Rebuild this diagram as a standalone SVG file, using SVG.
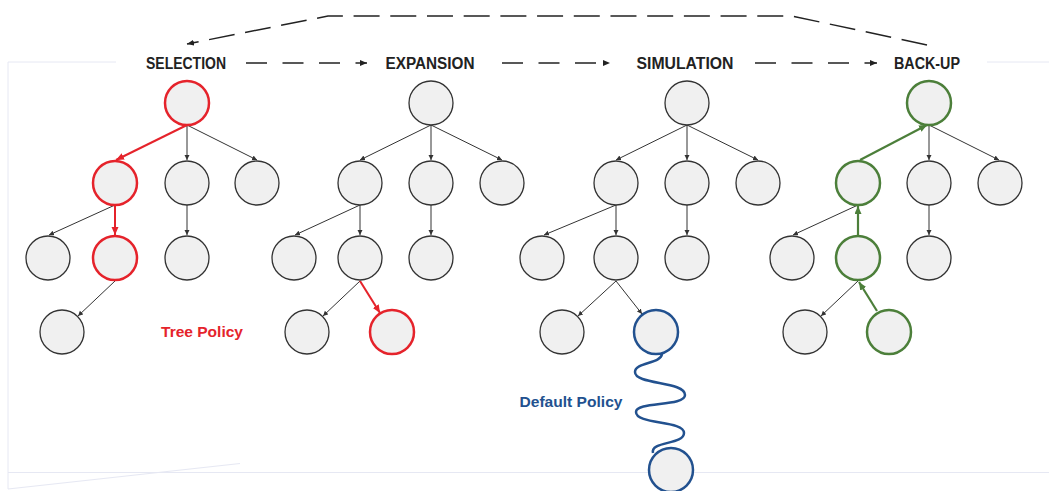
<svg xmlns="http://www.w3.org/2000/svg" width="1049" height="491" viewBox="0 0 1049 491">
<defs>
<style>
.n{fill:#f0f0f0;stroke:#333;stroke-width:1.3}
.nr{fill:#f0f0f0;stroke:#e5232b;stroke-width:2.5}
.ng{fill:#f0f0f0;stroke:#4c7f3a;stroke-width:2.5}
.nb{fill:#f0f0f0;stroke:#22518f;stroke-width:2.5}
.e{stroke:#333;stroke-width:1;fill:none;marker-end:url(#ak)}
.er{stroke:#e5232b;stroke-width:2;fill:none;marker-end:url(#ar)}
.eg{stroke:#4c7f3a;stroke-width:2.2;fill:none;marker-end:url(#ag)}
.d{stroke:#222;stroke-width:1.5;fill:none;stroke-dasharray:21 15.5;marker-end:url(#ad)}
.h{font-family:"Liberation Sans",Arial,sans-serif;font-weight:bold;font-size:16px;fill:#222;text-anchor:middle}
.p{font-family:"Liberation Sans",Arial,sans-serif;font-weight:bold;font-size:15.5px;text-anchor:middle}
.f{stroke:#e6e8f3;stroke-width:1;fill:none}
</style>
<marker id="ak" markerUnits="userSpaceOnUse" markerWidth="6" markerHeight="6" refX="5" refY="2.5" orient="auto"><path d="M0,0 L5,2.5 L0,5 z" fill="#333"/></marker>
<marker id="ad" markerUnits="userSpaceOnUse" markerWidth="8" markerHeight="8" refX="7" refY="3" orient="auto"><path d="M0,0 L7,3 L0,6 z" fill="#222"/></marker>
<marker id="ar" markerUnits="userSpaceOnUse" markerWidth="10" markerHeight="10" refX="8" refY="3.5" orient="auto"><path d="M0,0 L8,3.5 L0,7 z" fill="#e5232b"/></marker>
<marker id="ag" markerUnits="userSpaceOnUse" markerWidth="10" markerHeight="10" refX="8" refY="3.5" orient="auto"><path d="M0,0 L8,3.5 L0,7 z" fill="#4c7f3a"/></marker>
</defs>
<rect width="1049" height="491" fill="#fff"/>
<g id="frame">
<path class="f" d="M116,62 H8 V489 M987,62 H1049 M8,472.5 H1049 M8,489 L240,463.5"/>
</g>
<g id="connectors">
<path class="d" d="M246,63 H367"/>
<path class="d" d="M502,63 H610"/>
<path class="d" d="M755,63 H877"/>
<path d="M927,45 L792,16 H328 L187,44" stroke="#222" stroke-width="1.5" fill="none" stroke-dasharray="26 10.7" marker-end="url(#ad)"/>
<path class="er" d="M187,125 L116,160"/>
<path class="e" d="M187,125 L187,160"/>
<path class="e" d="M187,125 L257,160"/>
<path class="e" d="M115,205 L49,235"/>
<path class="er" d="M115,205 L115,235"/>
<path class="e" d="M187,205 L187,235"/>
<path class="e" d="M115,281 L78,316"/>
<path class="e" d="M431,125 L360,160"/>
<path class="e" d="M431,125 L431,160"/>
<path class="e" d="M431,125 L502,160"/>
<path class="e" d="M360,205 L295,235"/>
<path class="e" d="M360,205 L360,235"/>
<path class="e" d="M431,205 L431,235"/>
<path class="e" d="M360,281 L323,316"/>
<path class="er" d="M360,281 L380,313"/>
<path class="e" d="M687,125 L616,160"/>
<path class="e" d="M687,125 L687,160"/>
<path class="e" d="M687,125 L758,160"/>
<path class="e" d="M616,205 L544,235"/>
<path class="e" d="M616,205 L616,235"/>
<path class="e" d="M687,205 L687,235"/>
<path class="e" d="M616,281 L578,316"/>
<path class="e" d="M616,281 L642,314"/>
<path d="M662,354 C661,364 635,362 635,372 C635,385 685,381 685,395 C685,407 636,401 636,412 C636,425 684,420 684,433 C684,445 650,441 653,453" stroke="#22518f" stroke-width="2.5" fill="none"/>
<path class="eg" d="M860,160 L927,125"/>
<path class="e" d="M929,125 L929,160"/>
<path class="e" d="M929,125 L999,160"/>
<path class="e" d="M858,205 L793,235"/>
<path class="eg" d="M858,235 L858,206"/>
<path class="e" d="M929,205 L929,235"/>
<path class="e" d="M858,281 L821,316"/>
<path class="eg" d="M877,311 L859,282"/>
</g>
<g id="labels">
<text class="h" x="186" y="69" textLength="80" lengthAdjust="spacingAndGlyphs">SELECTION</text>
<text class="h" x="430" y="69" textLength="89" lengthAdjust="spacingAndGlyphs">EXPANSION</text>
<text class="h" x="685" y="69" textLength="97" lengthAdjust="spacingAndGlyphs">SIMULATION</text>
<text class="h" x="927" y="69" textLength="66" lengthAdjust="spacingAndGlyphs">BACK-UP</text>
<text class="p" x="202" y="337" fill="#e5232b" textLength="82" lengthAdjust="spacingAndGlyphs">Tree Policy</text>
<text class="p" x="571" y="407" fill="#22518f" textLength="103" lengthAdjust="spacingAndGlyphs">Default Policy</text>
</g>
<g id="selection">
<circle id="s0" class="nr" cx="187" cy="103" r="22"/>
<circle id="s1" class="nr" cx="115" cy="183" r="22"/>
<circle id="s2" class="n" cx="187" cy="183" r="22"/>
<circle id="s3" class="n" cx="257" cy="183" r="22"/>
<circle id="s4" class="n" cx="48" cy="258" r="22"/>
<circle id="s5" class="nr" cx="115" cy="258" r="22"/>
<circle id="s6" class="n" cx="187" cy="258" r="22"/>
<circle id="s7" class="n" cx="62" cy="332" r="22"/>
</g>
<g id="expansion">
<circle id="e0" class="n" cx="431" cy="103" r="22"/>
<circle id="e1" class="n" cx="360" cy="183" r="22"/>
<circle id="e2" class="n" cx="431" cy="183" r="22"/>
<circle id="e3" class="n" cx="502" cy="183" r="22"/>
<circle id="e4" class="n" cx="294" cy="258" r="22"/>
<circle id="e5" class="n" cx="360" cy="258" r="22"/>
<circle id="e6" class="n" cx="431" cy="258" r="22"/>
<circle id="e7" class="n" cx="307" cy="332" r="22"/>
<circle id="e8" class="nr" cx="392" cy="332" r="22"/>
</g>
<g id="simulation">
<circle id="m0" class="n" cx="687" cy="103" r="22"/>
<circle id="m1" class="n" cx="616" cy="183" r="22"/>
<circle id="m2" class="n" cx="687" cy="183" r="22"/>
<circle id="m3" class="n" cx="758" cy="183" r="22"/>
<circle id="m4" class="n" cx="542" cy="258" r="22"/>
<circle id="m5" class="n" cx="616" cy="258" r="22"/>
<circle id="m6" class="n" cx="687" cy="258" r="22"/>
<circle id="m7" class="n" cx="562" cy="332" r="22"/>
<circle id="m8" class="nb" cx="656" cy="332" r="22"/>
<circle id="m9" class="nb" cx="671" cy="470" r="22"/>
</g>
<g id="backup">
<circle id="b0" class="ng" cx="929" cy="103" r="22"/>
<circle id="b1" class="ng" cx="858" cy="183" r="22"/>
<circle id="b2" class="n" cx="929" cy="183" r="22"/>
<circle id="b3" class="n" cx="1000" cy="183" r="22"/>
<circle id="b4" class="n" cx="792" cy="258" r="22"/>
<circle id="b5" class="ng" cx="858" cy="258" r="22"/>
<circle id="b6" class="n" cx="929" cy="258" r="22"/>
<circle id="b7" class="n" cx="805" cy="332" r="22"/>
<circle id="b8" class="ng" cx="889" cy="332" r="22"/>
</g>
</svg>
